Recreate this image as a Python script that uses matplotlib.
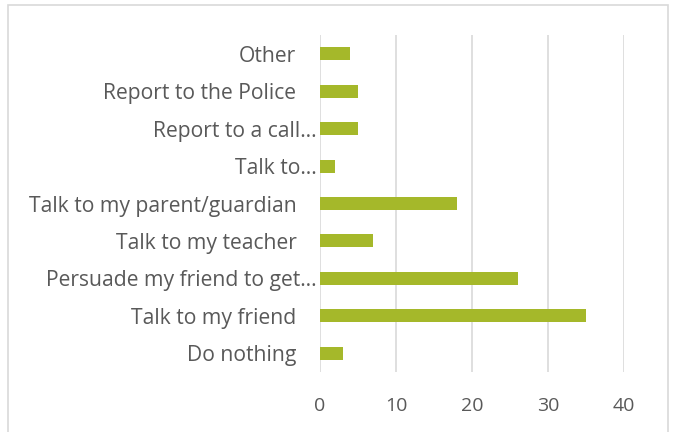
import matplotlib.pyplot as plt
import matplotlib.transforms as mtransforms
from matplotlib.patches import Rectangle

categories = ["Do nothing", "Talk to my friend", "Persuade my friend to get\u2026",
              "Talk to my teacher", "Talk to my parent/guardian", "Talk to\u2026",
              "Report to a call\u2026", "Report to the Police", "Other"]
values = [3, 35, 26, 7, 18, 2, 5, 5, 4]
xticks = [0, 10, 20, 30, 40]

plt.rcParams['font.family'] = ['Open Sans', 'DejaVu Sans']
text_color = '#595959'
grid_color = '#D9D9D9'
bar_color = '#A5B82A'

fig = plt.figure(figsize=(6.73, 4.32), dpi=100)
ax = fig.add_axes([320/673, 1 - 372/432, (624 - 320)/673, (372 - 35)/432])

ax.barh(range(len(categories)), values, height=0.35, color=bar_color, zorder=3)
ax.set_yticks(range(len(categories)))
ax.set_yticklabels(categories, fontsize=15.2, color=text_color)
ax.set_ylim(-0.5, len(categories) - 0.5)
ax.set_xlim(0, 40)
ax.set_xticks(xticks)
ax.set_xticklabels([str(t) for t in xticks], fontsize=14, color=text_color)
ax.tick_params(length=0)
ax.tick_params(axis='x', pad=18)
ax.tick_params(axis='y', pad=17)
ax.grid(axis='x', color=grid_color, linewidth=1.2, zorder=0)
for s in ax.spines.values():
    s.set_visible(False)

# truncated labels sit closer to the axis
shift = mtransforms.ScaledTranslation(20/100, 0, fig.dpi_scale_trans)
for lab in ax.get_yticklabels():
    if lab.get_text().endswith('\u2026'):
        lab.set_transform(lab.get_transform() + shift)

fig.patches.append(Rectangle((8/673, -0.05), 660/673, 1.05 - 5/432,
                             transform=fig.transFigure, fill=False,
                             edgecolor=grid_color, linewidth=1.2))

fig.savefig('out.png', dpi=100)
